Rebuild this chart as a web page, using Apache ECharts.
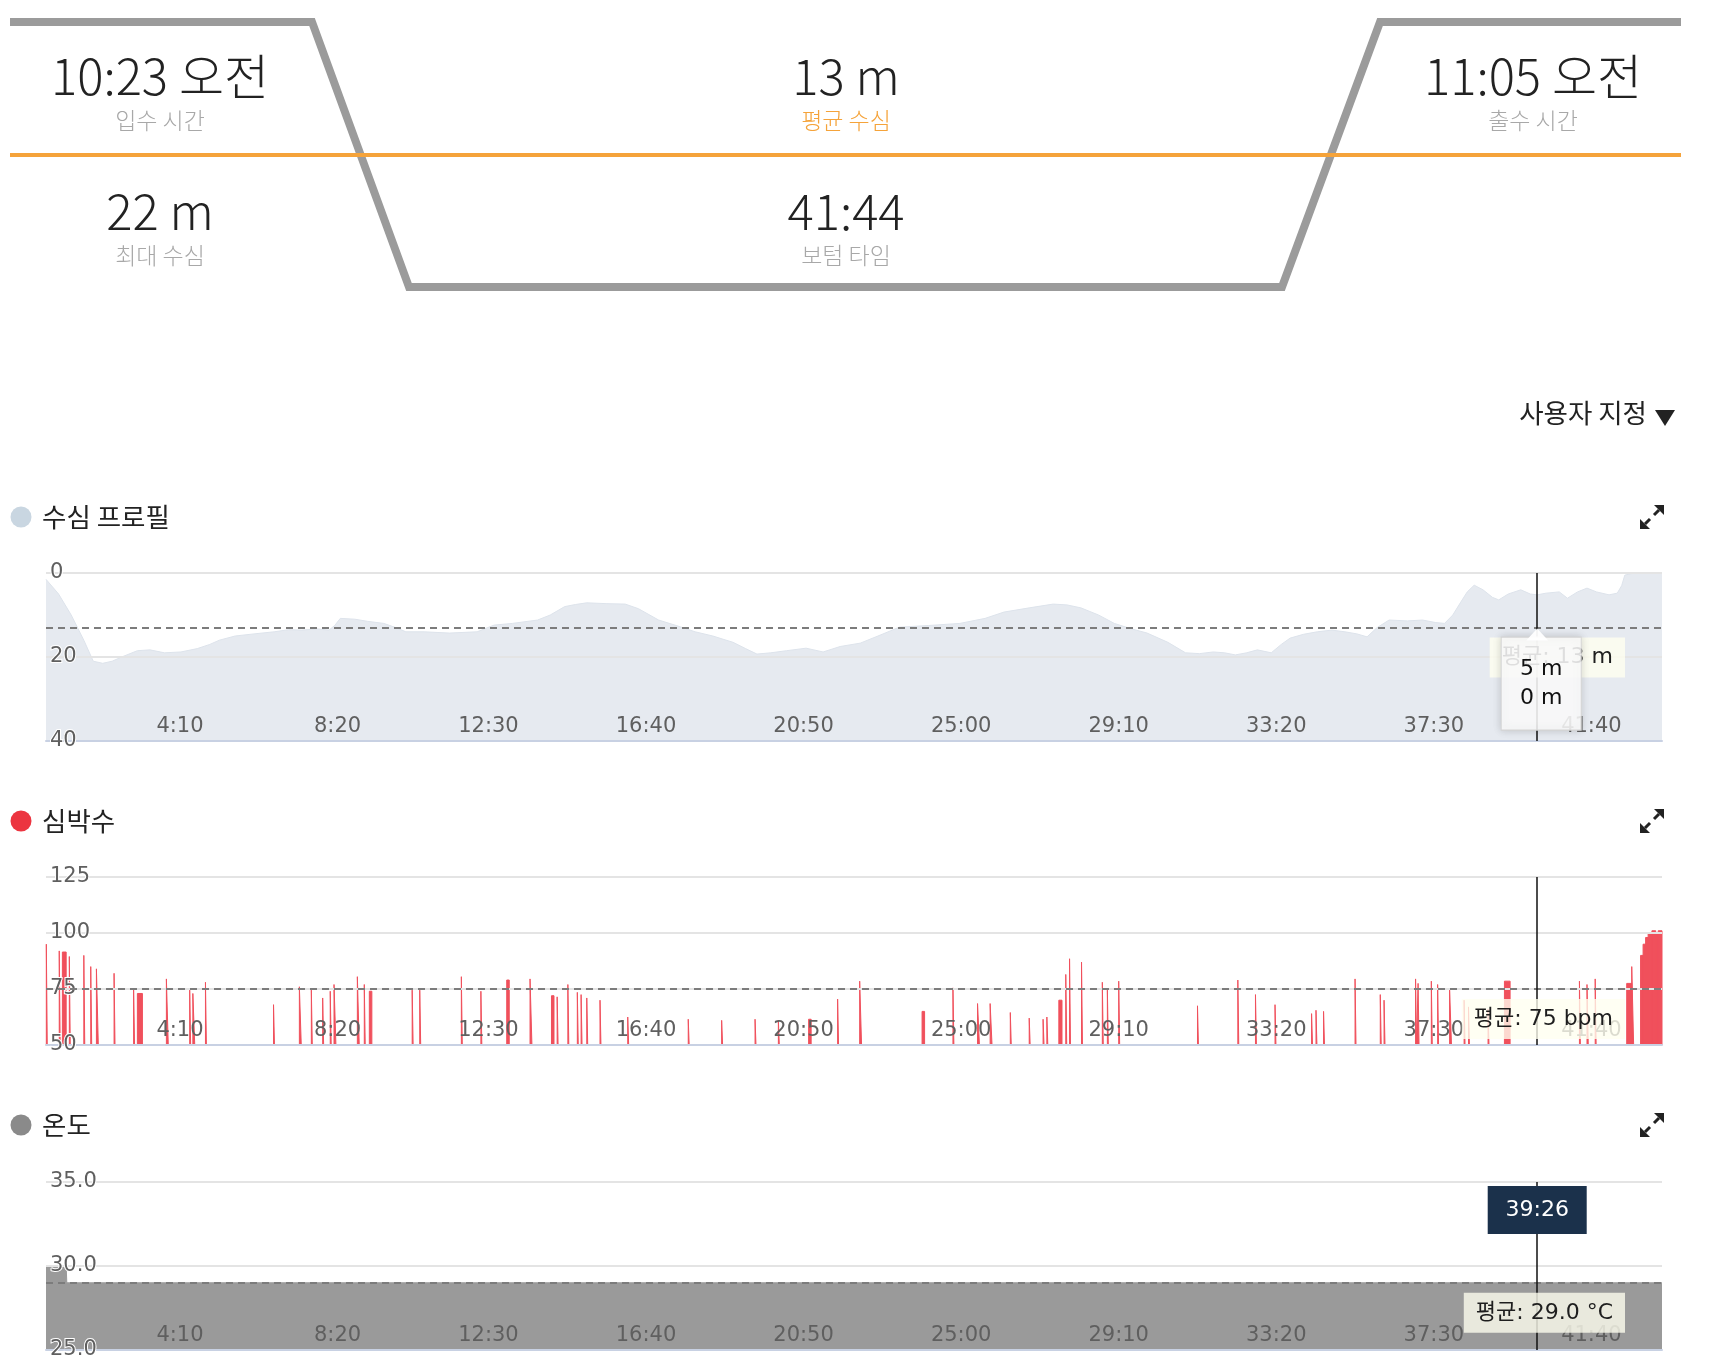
<!DOCTYPE html>
<html><head><meta charset="utf-8">
<script src="https://cdn.jsdelivr.net/npm/echarts@6/dist/echarts.min.js"></script>
<style>html,body{margin:0;padding:0;background:#fff}#c{width:1712px;height:1372px}</style>
</head><body><div id="c"></div>
<script>
// ---------- data ----------
const statValues = ['10:23 오전', '13 m', '11:05 오전', '22 m', '41:44'];
const statLabels = ['입수 시간', '평균 수심', '출수 시간', '최대 수심', '보텀 타임'];
const chartTitles = ['수심 프로필', '심박수', '온도'];
const menuLabel = '사용자 지정';

const diveEnd = 2564;       // seconds on the time axis
const tickStep = 250;       // 4:10
const cursorTime = 2366;    // 39:26
const cursorDepthLabels = ['5 m', '0 m'];
const avgDepth = 13, avgHr = 75, avgTemp = 29.0;

const depthTimes = [0,20,40,60,75,90,105,120,145,165,188,214,240,260,275,300,330,362,385,406,430,449,458,467,490,510,536,555,571,600,640,684,711,740,780,800,823,840,858,890,919,940,972,1000,1030,1058,1090,1110,1128,1150,1175,1206,1233,1260,1292,1320,1354,1400,1450,1490,1520,1560,1598,1620,1642,1670,1695,1720,1747,1780,1808,1830,1852,1870,1887,1905,1922,1944,1960,1974,1995,2017,2040,2061,2080,2096,2112,2131,2160,2184,2205,2219,2232,2244,2255,2266,2280,2295,2305,2320,2340,2355,2366,2380,2401,2414,2430,2445,2460,2480,2493,2500,2505,2520,2564];
const depthValues = [1.5,5,10,16,21,21.5,21,20,18.5,18.3,19,18.8,18,17,16,15,14.5,14,13.5,13.6,13.3,13.6,12.5,10.8,11,11.5,12,13,14,14,14.3,14,12.4,12,11.2,10,8,7.5,7.1,7.3,7.4,8.5,11.2,12.5,14,15,16.5,18,19.3,19,18.5,17.9,18.8,17.5,16.7,15,12.9,12.5,12,10.8,9.3,8.3,7.4,7.6,8.3,10,12,13.2,14.3,16.5,19,19.2,18.8,19,19.5,19,18.3,19,17,15.5,14.6,14,13.6,14,14.5,15.2,13,11.2,11.4,11.2,11.8,12,10,7.1,4.5,2.9,4,5.8,6.4,5,4,5,5.2,4.8,4.5,6,4.5,3.6,4.5,5.2,4.8,3,0.5,0,0];

const hrStart = [0.5,21,26,37,60,71,80,108,139,145,191,228,233,253,361,402,421,439,451,457,494,505,513,581,593,659,690,731,768,802,811,828,843,849,858,879,923,1019,1072,1125,1162,1210,1256,1291,1390,1439,1478,1498,1530,1560,1582,1588,1607,1618,1624,1643,1676,1684,1702,1827,1891,1919,1950,2008,2015,2027,2077,2117,2123,2173,2177,2198,2208,2227,2250,2257,2288,2314,2433,2445,2458,2508,2516,2530,2534,2538,2542,2548,2554,2558];
const hrEnd   = [2,22.5,32,38.5,61.5,72.5,83,109.5,140.5,153,194,229.5,236,254.5,362.5,405,422.5,440.5,452.5,460,497,506.5,517,582.5,594.5,660.5,691.5,735,771,806,812.5,829.5,844.5,850.5,859.5,880.5,924.5,1020.5,1073.5,1126.5,1163.5,1214,1257.5,1294,1394,1440.5,1481,1501,1531.5,1561.5,1583.5,1589.5,1612,1619.5,1625.5,1644.5,1677.5,1685.5,1703.5,1828.5,1892.5,1920.5,1951.5,2009.5,2016.5,2028.5,2078.5,2118.5,2124.5,2174.5,2178.5,2199.5,2209.5,2230,2251.5,2258.5,2289.5,2323,2434.5,2447,2459.5,2516,2519,2534,2538,2542,2548,2554,2558,2564];
const hrBpm   = [95,92,91.5,89.5,90,85,84,82,75,73,79.5,74.5,73,78,68,76,74.5,71,74,77,80.5,77,74,74.5,74.5,80.5,74,79,79.5,72,71.5,77,73.5,72.5,71,70,62.5,61.5,61,61.5,61,61.5,70.5,78.5,65,75.5,68.5,68.5,64.5,62,61.5,62.5,70,81.5,88.5,87,78,74.5,78.5,67.5,79,72.5,68,64,65.5,65,79.5,72.5,70,79.5,77.5,78.5,77,74.5,70,67,66,78.5,78.5,77,79.5,77.5,85,90,95,98,100,101,100,101];

const tempTimes = [0, 32, 33, 2564];
const tempValues = [30.0, 30.0, 29.0, 29.0];

// ---------- helpers ----------
const fmtTime = v => Math.floor(v / 60) + ':' + String(Math.round(v % 60)).padStart(2, '0');
const NUMFONT = 'DejaVu Sans, "Noto Sans CJK KR", sans-serif';
const KRFONT = '"Noto Sans CJK KR", sans-serif';
const LABEL = '#5f5f5f';

const grids = [573, 877, 1182].map(t => ({left: 46, right: 50, top: t, height: 168, outerBoundsMode: 'none', containLabel: false}));

function xAx(i) {
  return {type: 'value', gridIndex: i, min: 0, max: diveEnd, interval: tickStep, z: 3,
    axisLine: {show: true, onZero: false, lineStyle: {color: '#c8d1e3', width: 2}},
    axisTick: {show: false}, splitLine: {show: false},
    axisLabel: {inside: true, margin: 4, align: 'right', color: LABEL, fontSize: 21, fontFamily: NUMFONT,
      formatter: fmtTime, showMinLabel: false, showMaxLabel: false, hideOverlap: false}};
}
function yAx(i, min, max, interval, extra) {
  return Object.assign({type: 'value', gridIndex: i, min, max, interval, z: 3,
    axisLine: {show: false}, axisTick: {show: false},
    splitLine: {show: true, lineStyle: {color: '#e4e4e4', width: 2}},
    axisLabel: {inside: true, margin: 4, color: LABEL, fontSize: 21, fontFamily: NUMFONT,
      textBorderColor: '#fff', textBorderWidth: 2}}, extra || {});
}
function avgLine(value, text) {
  return {yAxis: value, lineStyle: {type: [7, 5], color: '#7c7c7c', width: 2},
    label: {show: true, position: 'insideEndBottom', formatter: text, distance: [37, 10],
      backgroundColor: 'rgba(255,255,240,0.78)', padding: [9, 12, 9, 12], color: '#1e1e1e',
      fontSize: 22, fontFamily: NUMFONT}};
}
const cursorLine = {xAxis: cursorTime, lineStyle: {type: 'solid', color: '#111', width: 1.5}, label: {show: false}};

const hrData = [];
hrStart.forEach((s, i) => { hrData.push([s, 50], [s, hrBpm[i]], [hrEnd[i], hrBpm[i]], [hrEnd[i], 50]); });

// ---------- header / decorations ----------
const graphic = [];
graphic.push({type: 'polyline', shape: {points: [[10, 22], [312, 22], [409, 287], [1282, 287], [1380, 22], [1681, 22]]},
  style: {stroke: '#9b9b9b', lineWidth: 8, fill: null, lineJoin: 'miter'}});
graphic.push({type: 'line', shape: {x1: 10, y1: 155, x2: 1681, y2: 155}, style: {stroke: '#f5a33a', lineWidth: 4}});
const statPos = [[160, 76, 120], [846, 76, 120], [1533, 76, 120], [160, 211, 255], [846, 211, 255]];
statValues.forEach((v, i) => {
  const p = statPos[i];
  graphic.push({type: 'text', x: p[0], y: p[1], style: {text: v, fontSize: 49, fontWeight: 200, fontFamily: KRFONT,
    fill: '#222', align: 'center', verticalAlign: 'middle'}});
  graphic.push({type: 'text', x: p[0], y: p[2], style: {text: statLabels[i], fontSize: 23, fontWeight: 200, fontFamily: KRFONT,
    fill: i === 1 ? '#f5a33a' : '#a8a8a8', align: 'center', verticalAlign: 'middle'}});
});
graphic.push({type: 'text', x: 1647, y: 413, style: {text: menuLabel, fontSize: 26.5, fontFamily: KRFONT, fill: '#222', align: 'right', verticalAlign: 'middle'}});
graphic.push({type: 'polygon', shape: {points: [[1655, 410], [1675, 410], [1665, 426]]}, style: {fill: '#222'}});

const titleY = [517, 821, 1125];
const dotColors = ['#c9d6e1', '#ec3540', '#8a8a8a'];
chartTitles.forEach((t, i) => {
  const y = titleY[i];
  graphic.push({type: 'circle', shape: {cx: 21, cy: y, r: 10.5}, style: {fill: dotColors[i]}});
  graphic.push({type: 'text', x: 42, y: y, style: {text: t, fontSize: 26.5, fontFamily: KRFONT, fill: '#222', align: 'left', verticalAlign: 'middle'}});
  const cx = 1652, cy = y;
  graphic.push({type: 'polygon', shape: {points: [[cx + 12, cy - 12], [cx + 12, cy - 2], [cx + 2, cy - 12]]}, style: {fill: '#222'}});
  graphic.push({type: 'polygon', shape: {points: [[cx - 12, cy + 12], [cx - 12, cy + 2], [cx - 2, cy + 12]]}, style: {fill: '#222'}});
  graphic.push({type: 'line', shape: {x1: cx + 7, y1: cy - 7, x2: cx + 2, y2: cy - 2}, style: {stroke: '#222', lineWidth: 3}});
  graphic.push({type: 'line', shape: {x1: cx - 7, y1: cy + 7, x2: cx - 2, y2: cy + 2}, style: {stroke: '#222', lineWidth: 3}});
});

// ---------- chart ----------
const chart = echarts.init(document.getElementById('c'), null, {renderer: 'canvas'});
chart.setOption({
  animation: false,
  backgroundColor: '#fff',
  grid: grids,
  xAxis: [xAx(0), xAx(1), xAx(2)],
  yAxis: [
    yAx(0, 0, 40, 20, {inverse: true}),
    yAx(1, 50, 125, 25),
    yAx(2, 25, 35, 5, {axisLabel: {inside: true, margin: 4, color: LABEL, fontSize: 21, fontFamily: NUMFONT,
      textBorderColor: '#fff', textBorderWidth: 2, formatter: v => v.toFixed(1)}})
  ],
  graphic: graphic,
  series: [
    {type: 'line', xAxisIndex: 0, yAxisIndex: 0, data: depthTimes.map((t, i) => [t, depthValues[i]]),
      symbol: 'none', lineStyle: {width: 1, color: '#dde3eb'}, areaStyle: {color: '#e6eaf0', origin: 'end', opacity: 1}, z: 2,
      markLine: {symbol: 'none', silent: true, z: 5, data: [avgLine(avgDepth, '평균: ' + avgDepth + ' m'), cursorLine]},
      markPoint: {silent: true, z: 10, data: [
        {coord: [cursorTime, avgDepth], symbol: 'rect', symbolSize: [80, 93], symbolOffset: [4, 56],
          itemStyle: {color: 'rgba(255,255,255,0.86)', borderColor: '#d4d4d4', borderWidth: 1, shadowBlur: 8, shadowColor: 'rgba(0,0,0,0.18)'},
          label: {show: true, position: 'inside', formatter: cursorDepthLabels.join('\n'), color: '#111', fontSize: 22, lineHeight: 29, fontFamily: NUMFONT, padding: [6, 0, 0, 0]}},
        {coord: [cursorTime, avgDepth], symbol: 'triangle', symbolSize: [22, 12], symbolOffset: [0, 7],
          itemStyle: {color: 'rgba(255,255,255,0.95)'}, label: {show: false}}
      ]}},
    {type: 'line', xAxisIndex: 1, yAxisIndex: 1, data: hrData,
      symbol: 'none', lineStyle: {width: 1, color: '#f0505c'}, areaStyle: {color: '#f0505c', origin: 'start', opacity: 1}, z: 2,
      markLine: {symbol: 'none', silent: true, z: 5, data: [avgLine(avgHr, '평균: ' + avgHr + ' bpm'), cursorLine]}},
    {type: 'line', xAxisIndex: 2, yAxisIndex: 2, data: tempTimes.map((t, i) => [t, tempValues[i]]),
      symbol: 'none', lineStyle: {width: 1, color: '#9a9a9a'}, areaStyle: {color: '#9a9a9a', origin: 'start', opacity: 1}, z: 2,
      markLine: {symbol: 'none', silent: true, z: 5, data: [avgLine(avgTemp, '평균: ' + avgTemp.toFixed(1) + ' °C'), cursorLine]},
      markPoint: {silent: true, z: 10, data: [
        {coord: [cursorTime, 35], symbol: 'rect', symbolSize: [99, 48], symbolOffset: [0, 28],
          itemStyle: {color: '#1b314b'},
          label: {show: true, position: 'inside', formatter: fmtTime(cursorTime), color: '#fff', fontSize: 22, fontFamily: NUMFONT}}
      ]}}
  ]
});
</script></body></html>
